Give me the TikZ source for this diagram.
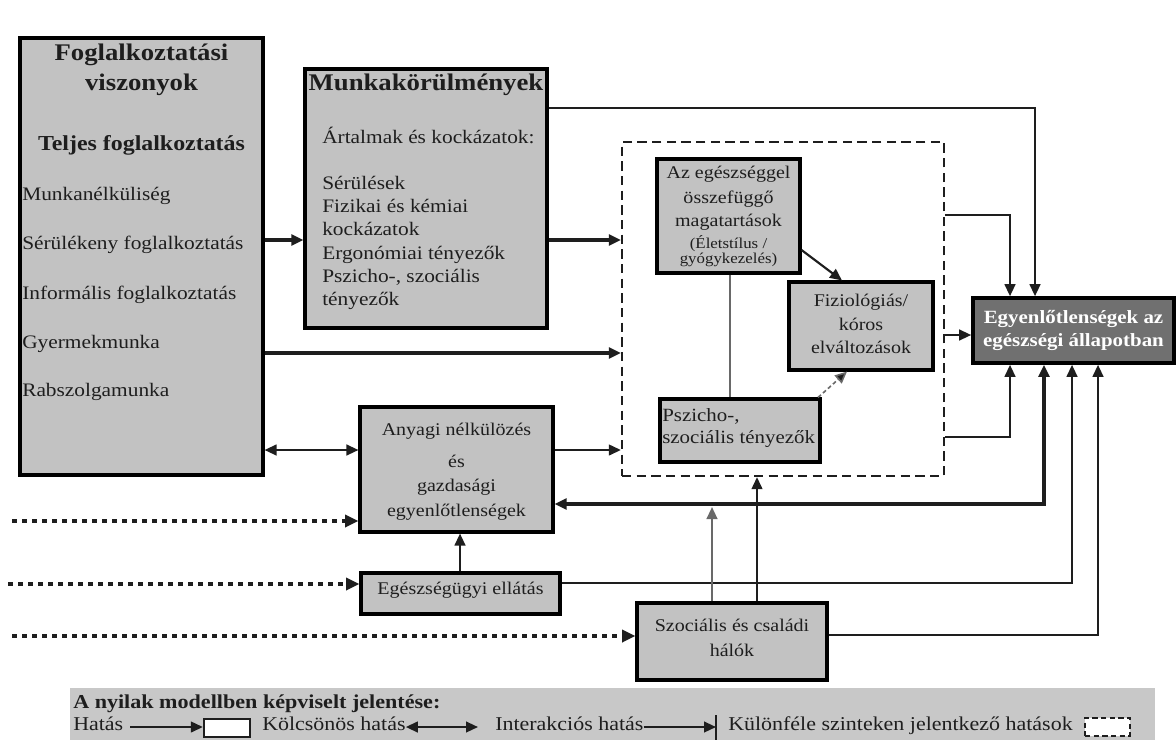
\documentclass[tikz,border=0pt]{standalone}
\usepackage{fontspec}
\setmainfont{Liberation Serif}[FakeStretch=1.12]
\usetikzlibrary{arrows.meta,fit}
\definecolor{boxgray}{RGB}{194,194,194}
\definecolor{darkbox}{RGB}{112,112,112}
\definecolor{legendgray}{RGB}{200,200,200}
\definecolor{ink}{RGB}{30,30,30}
\definecolor{softink}{RGB}{105,105,105}
\newcommand\fsz[1]{\fontsize{#1}{#1}\selectfont}
\begin{document}
\begin{tikzpicture}[x=0.75pt,y=-0.75pt,
  box/.style={draw=black, line width=2.3pt, fill=boxgray, inner sep=0pt},
  txt/.style={inner sep=0pt, anchor=mid, text=ink},
  txtl/.style={inner sep=0pt, anchor=mid west, text=ink},
  conn/.style={draw=ink, line width=1.6pt},
  thickconn/.style={draw=ink, line width=2.5pt},
  tip/.style={-{Triangle[length=9pt,width=8pt]}},
  tips/.style={{Triangle[length=9pt,width=8pt]}-{Triangle[length=9pt,width=8pt]}},
  dotline/.style={draw=ink, line width=3pt, dash pattern=on 3.6pt off 3.9pt},
  dottip/.style={-{Triangle[length=10pt,width=9pt]}},
]
\useasboundingbox (0,0) rectangle (1176,740);
\fill[white] (0,0) rectangle (1176,740);

% ---------- boxes ----------
\node[box, fit={(20,38) (263,475)}] (b1) {};
\node[box, fit={(305,69) (547,328)}] (b2) {};
\node[box, fit={(360,407) (553,532)}] (any) {};
\node[box, fit={(361,573) (560,614)}] (egs) {};
\node[box, fit={(637,603) (827,680)}] (szoc) {};
\node[draw=ink, line width=1.7pt, dash pattern=on 7pt off 4pt, inner sep=0pt, fit={(622,142) (944,476)}] (dash) {};
\node[box, fit={(657,159) (800,273)}] (az) {};
\node[box, fit={(789,282) (933,370)}] (fiz) {};
\node[box, fit={(660,399) (820,462)}] (psz) {};
\node[draw=black, line width=2.7pt, fill=darkbox, inner sep=0pt, fit={(973,298) (1174,363)}] (egy) {};

% ---------- box 1 text ----------
\node[txt, font=\fsz{17.9}\bfseries] (t1a) at (141.5,57) {Foglalkoztatási};
\node[txt, font=\fsz{17.9}\bfseries] (t1b) at (141.5,87) {viszonyok};
\node[txt, font=\fsz{16}\bfseries] (t1c) at (141.5,147) {Teljes foglalkoztatás};
\node[txtl, font=\fsz{14.3}] (t1d) at (22,197) {Munkanélküliség};
\node[txtl, font=\fsz{14.3}] (t1e) at (22,246) {Sérülékeny foglalkoztatás};
\node[txtl, font=\fsz{14.3}] (t1f) at (22,296) {Informális foglalkoztatás};
\node[txtl, font=\fsz{14.3}] (t1g) at (22,345) {Gyermekmunka};
\node[txtl, font=\fsz{14.3}] (t1h) at (22,393) {Rabszolgamunka};

% ---------- box 2 text ----------
\node[txt, font=\fsz{17.9}\bfseries] (t2a) at (426,87) {Munkakörülmények};
\node[txtl, font=\fsz{14.3}] (t2b) at (322,140) {Ártalmak és kockázatok:};
\node[txtl, font=\fsz{14.3}] (t2c) at (322,186) {Sérülések};
\node[txtl, font=\fsz{14.3}] (t2d) at (322,209) {Fizikai és kémiai};
\node[txtl, font=\fsz{14.3}] (t2e) at (322,232) {kockázatok};
\node[txtl, font=\fsz{14.3}] (t2f) at (322,256) {Ergonómiai tényezők};
\node[txtl, font=\fsz{14.3}] (t2g) at (322,279) {Pszicho-, szociális};
\node[txtl, font=\fsz{14.3}] (t2h) at (322,302) {tényezők};

% ---------- other texts ----------
\node[txt, font=\fsz{13.4}] (ta1) at (456.5,432) {Anyagi nélkülözés};
\node[txt, font=\fsz{13.4}] (ta2) at (456.5,464) {és};
\node[txt, font=\fsz{13.4}] (ta3) at (456.5,488) {gazdasági};
\node[txt, font=\fsz{13.4}] (ta4) at (456.5,513) {egyenlőtlenségek};
\node[txt, font=\fsz{13.4}] (te1) at (460.5,591) {Egészségügyi ellátás};
\node[txt, font=\fsz{13.4}] (ts1) at (732,628) {Szociális és családi};
\node[txt, font=\fsz{13.4}] (ts2) at (732,653) {hálók};
\node[txt, font=\fsz{13.4}] (tz1) at (728.5,175) {Az egészséggel};
\node[txt, font=\fsz{13.4}] (tz2) at (728.5,200) {összefüggő};
\node[txt, font=\fsz{13.4}] (tz3) at (728.5,223) {magatartások};
\node[txt, font=\fsz{11.3}] (tz4) at (728.5,245) {(Életstílus /};
\node[txt, font=\fsz{11.3}] (tz5) at (728.5,260) {gyógykezelés)};
\node[txt, font=\fsz{13.4}] (tf1) at (861,303) {Fiziológiás/};
\node[txt, font=\fsz{13.4}] (tf2) at (861,327) {kóros};
\node[txt, font=\fsz{13.4}] (tf3) at (861,350) {elváltozások};
\node[txtl, font=\fsz{14}] (tp1) at (662,418) {Pszicho-,};
\node[txtl, font=\fsz{14}] (tp2) at (662,440) {szociális tényezők};
\node[txt, font=\fsz{14}\bfseries, text=white] (ty1) at (1073.5,320) {Egyenlőtlenségek az};
\node[txt, font=\fsz{14}\bfseries, text=white] (ty2) at (1073.5,343) {egészségi állapotban};

% ---------- connectors ----------
\draw[thickconn, tip] (b1.east |- 0,240) -- (b2.west |- 0,240);
\draw[thickconn, tip] (b2.east |- 0,240) -- (dash.west |- 0,240);
\draw[thickconn, tip] (b1.east |- 0,353) -- (dash.west |- 0,353);
\draw[conn, tip] (any.east |- 0,450) -- (dash.west |- 0,450);
\draw[conn, tips] (b1.east |- 0,450) -- (any.west |- 0,450);
\draw[conn, tip] (b2.east |- 0,108) -| (1035,0 |- egy.north);
\draw[conn, tip] (dash.east |- 0,215) -| (1010,0 |- egy.north);
\draw[conn, tip] (dash.east |- 0,335) -- (egy.west |- 0,335);
\draw[conn, tip] (dash.east |- 0,437) -| (1010,0 |- egy.south);
\draw[thickconn, tips] (egy.south -| 1044,0) |- (any.east |- 0,504);
\draw[conn, tip] (egs.east |- 0,583) -| (1072,0 |- egy.south);
\draw[conn, tip] (szoc.east |- 0,635) -| (1098,0 |- egy.south);
\draw[conn, tip] (egs.north -| 460,0) -- (any.south -| 460,0);
\coordinate (fb) at (712,507);
\draw[conn, draw=softink, -{Triangle[length=9pt,width=8pt,fill=softink]}] (szoc.north -| fb) -- (fb);
\draw[conn, tip] (szoc.north -| 757,0) -- (dash.south -| 757,0);

\coordinate (d1) at (12,521);
\coordinate (d2) at (8,584);
\coordinate (d3) at (12,636);
\draw[dotline, dottip] (d1) -- (any.west |- d1);
\draw[dotline, dottip] (d2) -- (egs.west |- d2);
\draw[dotline, dottip] (d3) -- (szoc.west |- d3);

% inside dashed box
\draw[conn, draw=softink] (az.south -| 730,0) -- (psz.north -| 730,0);
\draw[conn, tip] (az.east |- 0,250) -- (fiz.north -| 842,0);
\draw[line width=1.2pt, draw=softink, dash pattern=on 3pt off 2pt, -{Triangle[length=9pt,width=8pt,fill=ink]}] (psz.north -| 818,0) -- (fiz.south -| 847,0);

% ---------- legend ----------
\node[fill=legendgray, inner sep=0pt, fit={(70,688) (1155,740)}] (leg) {};
\node[txtl, font=\fsz{14.8}\bfseries] (l0) at (73,705) {A nyilak modellben képviselt jelentése:};
\node[txtl, font=\fsz{14.7}] (l1) at (73,727) {Hatás};
\node[draw=ink, line width=1.7pt, fill=white, inner sep=0pt, fit={(204,719) (250,737)}] (lbox) {};
\coordinate (la) at (130,727);
\draw[conn, tip] (la) -- (lbox.west |- la);
\node[txtl, font=\fsz{14.7}] (l2) at (262,727) {Kölcsönös hatás};
\coordinate (lb) at (478,727);
\draw[conn, tips] (l2.east |- lb) -- (lb);
\node[txtl, font=\fsz{14.7}] (l3) at (495,727) {Interakciós hatás};
\coordinate (lc) at (716,727);
\draw[conn] (716,715) -- (716,740);
\draw[conn, tip] (l3.east |- lc) -- (lc);
\node[txtl, font=\fsz{14.7}] (l4) at (728,727) {Különféle szinteken jelentkező hatások};
\node[draw=ink, line width=1.7pt, dash pattern=on 4pt off 2.5pt, fill=white, inner sep=0pt, fit={(1085,718) (1130,736)}] (ldash) {};
\end{tikzpicture}
\end{document}
